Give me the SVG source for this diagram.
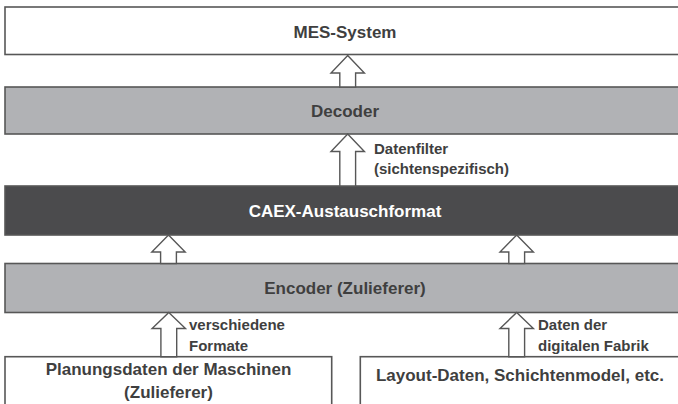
<svg xmlns="http://www.w3.org/2000/svg" width="678" height="404" viewBox="0 0 678 404">
<style>
.box{stroke:#575757;stroke-width:1.6}
.white{fill:#ffffff}
.grey{fill:#b1b2b5}
.dark{fill:#4b4b4d}
.t{font-family:"Liberation Sans",Arial,sans-serif;font-weight:bold;fill:#3f3f3f;text-anchor:middle;font-size:17px}
.tw{fill:#ffffff}
.lbl{font-family:"Liberation Sans",Arial,sans-serif;font-weight:bold;fill:#3f3f3f;font-size:15px}
.arrow{fill:#ffffff;stroke:#575757;stroke-width:1.4;stroke-linejoin:miter}
</style>
<rect width="678" height="404" fill="#ffffff"/>
<g id="mes">
<rect class="box white" x="5" y="7" width="700" height="47.5"/>
<text class="t" x="345" y="37.5">MES-System</text>
</g>
<g id="decoder">
<rect class="box grey" x="5" y="87" width="700" height="47"/>
<text class="t" x="345" y="117">Decoder</text>
</g>
<g id="caex">
<rect class="box dark" x="5" y="186" width="700" height="49"/>
<text class="t tw" x="345" y="216.5">CAEX-Austauschformat</text>
</g>
<g id="encoder">
<rect class="box grey" x="5" y="263.5" width="700" height="49"/>
<text class="t" x="345" y="294">Encoder (Zulieferer)</text>
</g>
<g id="planung">
<rect class="box white" x="5" y="356.7" width="326.7" height="60"/>
<text class="t" x="168.5" y="375">Planungsdaten der Maschinen</text>
<text class="t" x="168.5" y="398">(Zulieferer)</text>
</g>
<g id="layout">
<rect class="box white" x="360.3" y="356.7" width="340" height="60"/>
<text class="t" x="520" y="381">Layout-Daten, Schichtenmodel, etc.</text>
</g>
<g id="connectors">
<polygon class="arrow" points="347.7,55.5 364.4,73 355.6,73 355.6,87 339.8,87 339.8,73 331,73"/>
<polygon class="arrow" points="347.7,134 364.4,151.5 355.6,151.5 355.6,186 339.8,186 339.8,151.5 331,151.5"/>
<polygon class="arrow" points="168.5,235 185.2,252 176.4,252 176.4,263.5 160.6,263.5 160.6,252 151.8,252"/>
<polygon class="arrow" points="516.7,235 533.4,252 524.6,252 524.6,263.5 508.8,263.5 508.8,252 500,252"/>
<polygon class="arrow" points="168.8,312.5 185.5,328.5 176.7,328.5 176.7,356.7 160.9,356.7 160.9,328.5 152.1,328.5"/>
<polygon class="arrow" points="516.7,312.5 533.4,328.5 524.6,328.5 524.6,356.7 508.8,356.7 508.8,328.5 500,328.5"/>
<text class="lbl" x="374" y="154">Datenfilter</text>
<text class="lbl" x="374" y="174">(sichtenspezifisch)</text>
<text class="lbl" x="189" y="330">verschiedene</text>
<text class="lbl" x="189" y="351">Formate</text>
<text class="lbl" x="538" y="330">Daten der</text>
<text class="lbl" x="538" y="351">digitalen Fabrik</text>
</g>
</svg>
